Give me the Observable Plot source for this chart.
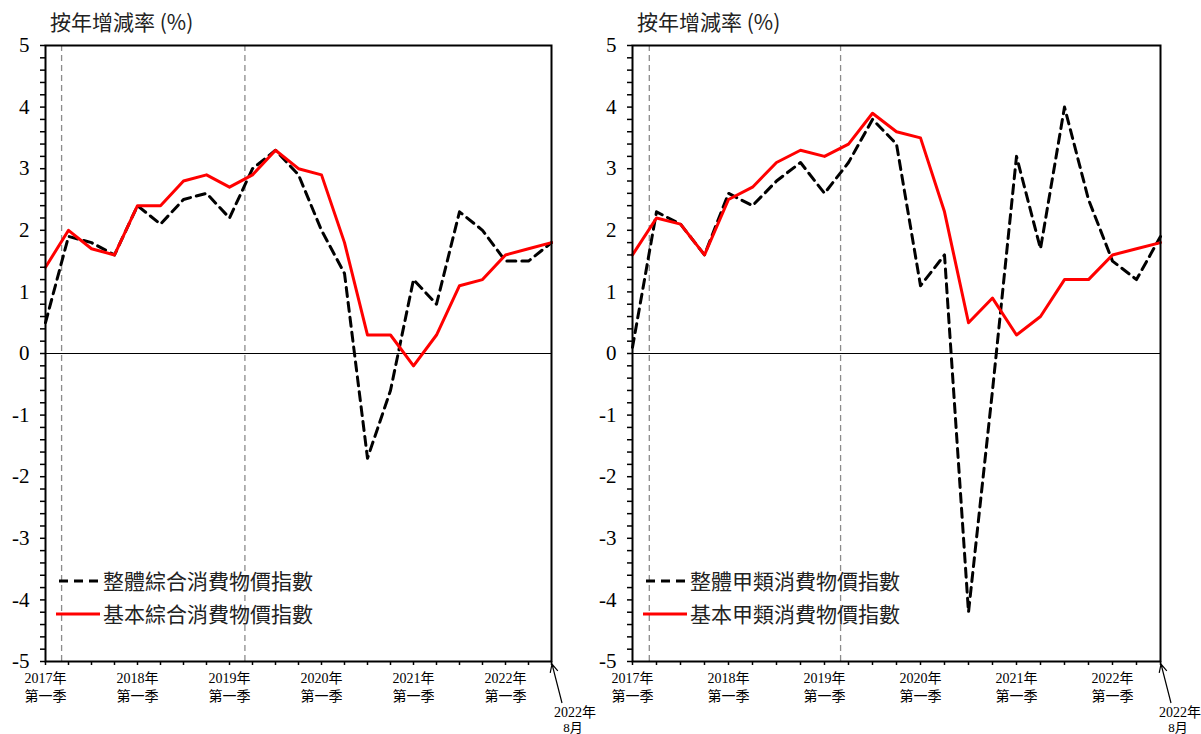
<!DOCTYPE html>
<html>
<head>
<meta charset="utf-8">
<script src="https://cdn.jsdelivr.net/npm/d3@7"></script>
<script src="https://cdn.jsdelivr.net/npm/@observablehq/plot@0.6"></script>
<style>
  body { margin: 0; background: #fff; }
  #wrap { position: relative; width: 1201px; height: 734px; overflow: hidden; background: #fff; }
  .panel { position: absolute; top: 0; }
  .panel svg { overflow: visible; }
  .title { position: absolute; top: 11px; font: 21px "Noto Sans CJK TC", sans-serif; color: #222; line-height: 1; white-space: nowrap; }
  .leg { position: absolute; font: 21px "Noto Sans CJK TC", sans-serif; color: #222; line-height: 1; white-space: nowrap; display: flex; align-items: center; }
  .leg svg { margin-right: 3px; }
</style>
</head>
<body>
<div id="wrap"></div>
<script>
// ---- data ----
const periods = ["2017Q1","2017Q2","2017Q3","2017Q4","2018Q1","2018Q2","2018Q3","2018Q4",
  "2019Q1","2019Q2","2019Q3","2019Q4","2020Q1","2020Q2","2020Q3","2020Q4",
  "2021Q1","2021Q2","2021Q3","2021Q4","2022Q1","2022Q2","2022-08"];
const ccpiHeadline   = [0.5,1.9,1.8,1.6,2.4,2.1,2.5,2.6,2.2,3.0,3.3,2.9,2.0,1.3,-1.7,-0.6,1.2,0.8,2.3,2.0,1.5,1.5,1.8];
const ccpiUnderlying = [1.4,2.0,1.7,1.6,2.4,2.4,2.8,2.9,2.7,2.9,3.3,3.0,2.9,1.8,0.3,0.3,-0.2,0.3,1.1,1.2,1.6,1.7,1.8];
const cpiAHeadline   = [0.1,2.3,2.1,1.6,2.6,2.4,2.8,3.1,2.6,3.1,3.8,3.4,1.1,1.6,-4.2,-0.6,3.2,1.7,4.0,2.5,1.5,1.2,1.9];
const cpiAUnderlying = [1.6,2.2,2.1,1.6,2.5,2.7,3.1,3.3,3.2,3.4,3.9,3.6,3.5,2.3,0.5,0.9,0.3,0.6,1.2,1.2,1.6,1.7,1.8];
const eventMarks = [0.7, 8.67];          // dashed reference lines (quarter index)
const yTickValues = d3.range(-25, 26).map(d => d / 5);
const yearLabels = ["2017年","2018年","2019年","2020年","2021年","2022年"];
const quarterLabel = "第一季";
const endLabel = ["2022年", "8月"];
const axisTitle = "按年增減率 (%)";
const namesLeft = ["整體綜合消費物價指數", "基本綜合消費物價指數"];
const namesRight = ["整體甲類消費物價指數", "基本甲類消費物價指數"];

const serif = '"Liberation Serif","Noto Sans CJK TC",serif';
const wrap = document.getElementById("wrap");

function panel({left, width, ml, mr, headline, underlying, names, endDx}) {
  const hl = headline.map((v, i) => ({i, v}));
  const ul = underlying.map((v, i) => ({i, v}));
  const plot = Plot.plot({
    width, height: 734,
    marginLeft: ml, marginRight: mr, marginTop: 45, marginBottom: 73,
    x: {domain: [0, periods.length - 1]},
    y: {domain: [-5, 5]},
    style: {fontFamily: serif, fontSize: "14px", color: "#000", background: "transparent"},
    marks: [
      Plot.ruleX(eventMarks, {stroke: "#8c8c8c", strokeDasharray: "6,4", strokeWidth: 1.3}),
      Plot.ruleY([0], {stroke: "#000", strokeWidth: 1.2}),
      Plot.line(hl, {x: "i", y: "v", stroke: "#000", strokeWidth: 3, strokeDasharray: "9,6"}),
      Plot.line(ul, {x: "i", y: "v", stroke: "#ff0000", strokeWidth: 3}),
      Plot.axisY(yTickValues, {
        tickFormat: d => Number.isInteger(d) ? String(d) : "",
        tickSize: 5, tickPadding: 11, fontSize: 21, label: null, strokeWidth: 1.5
      }),
      Plot.axisX(d3.range(periods.length), {
        tickFormat: i => (i % 4 === 0 && i / 4 < yearLabels.length) ? `${yearLabels[i / 4]}\n${quarterLabel}` : "",
        tickSize: 4, tickPadding: 5, fontSize: 14, lineHeight: 1.28, label: null, strokeWidth: 1.5
      }),
      Plot.frame({stroke: "#000", strokeWidth: 2})
    ]
  });
  const div = document.createElement("div");
  div.className = "panel";
  div.style.left = left + "px";
  div.appendChild(plot);
  wrap.appendChild(div);

  // end-of-axis annotation with arrow
  const sx = plot.scale("x"), sy = plot.scale("y");
  const px = sx.apply(periods.length - 1), py = sy.apply(-5);
  const svg = d3.select(plot);
  const tx = px + 11, ty = py + 42, hx = px + 1, hy = py + 3;
  const ang = Math.atan2(ty - hy, tx - hx);
  const hlng = 9, spread = 0.45;
  svg.append("path")
    .attr("d", `M${tx},${ty}L${hx},${hy}M${hx + hlng * Math.cos(ang - spread)},${hy + hlng * Math.sin(ang - spread)}L${hx},${hy}L${hx + hlng * Math.cos(ang + spread)},${hy + hlng * Math.sin(ang + spread)}`)
    .attr("fill", "none").attr("stroke", "#000").attr("stroke-width", 1.2);
  svg.append("text").attr("x", px + endDx).attr("y", py + 56).attr("text-anchor", "middle")
    .attr("font-size", 14).attr("font-family", serif).text(endLabel[0]);
  svg.append("text").attr("x", px + endDx - 2).attr("y", py + 71).attr("text-anchor", "middle")
    .attr("font-size", 13).attr("font-family", serif).text(endLabel[1]);

  // title
  const t = document.createElement("div");
  t.className = "title";
  t.style.left = (left + ml + 5) + "px";
  t.textContent = axisTitle;
  wrap.appendChild(t);

  // legend
  const legX = left + ml + 11;
  [[names[0], "#000", "9,6", 570], [names[1], "#ff0000", null, 603]].forEach(([name, color, dash, top]) => {
    const d = document.createElement("div");
    d.className = "leg";
    d.style.left = legX + "px";
    d.style.top = top + "px";
    d.innerHTML = `<svg width="44" height="20"><line x1="0" x2="44" y1="10" y2="10" stroke="${color}" stroke-width="3" ${dash ? `stroke-dasharray="${dash}" stroke-dashoffset="-3"` : ""}/></svg><span>${name}</span>`;
    wrap.appendChild(d);
  });
}

panel({left: 0, width: 600, ml: 45, mr: 49, headline: ccpiHeadline, underlying: ccpiUnderlying, names: namesLeft, endDx: 24});
panel({left: 600, width: 601, ml: 32, mr: 41, headline: cpiAHeadline, underlying: cpiAUnderlying, names: namesRight, endDx: 20});
</script>
</body>
</html>
